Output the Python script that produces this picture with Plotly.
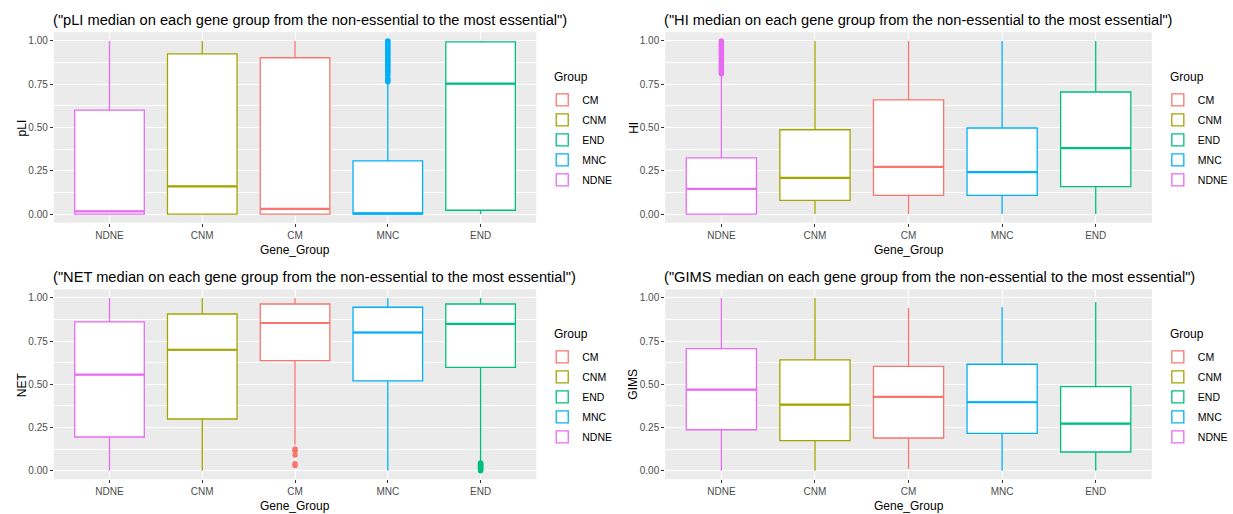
import plotly.graph_objects as go

categories = ["NDNE", "CNM", "CM", "MNC", "END"]
legend_order = ["CM", "CNM", "END", "MNC", "NDNE"]
group_colors = {"CM": "#F8766D", "CNM": "#A3A500", "END": "#00BF7D", "MNC": "#00B0F6", "NDNE": "#E76BF3"}

# per panel: lowerfence, q1, median, q3, upperfence (in order of categories)
pli_low = [0.0, 0.0, 0.0, 0.0, 0.0]
pli_q1 = [0.0, 0.0, 0.0, 0.0, 0.022]
pli_med = [0.015, 0.16, 0.03, 0.004, 0.754]
pli_q3 = [0.60, 0.925, 0.903, 0.307, 0.995]
pli_high = [1.0, 1.0, 1.0, 0.76, 1.0]

hi_low = [0.0, 0.0, 0.0, 0.0, 0.0]
hi_q1 = [0.0, 0.079, 0.108, 0.108, 0.158]
hi_med = [0.145, 0.209, 0.272, 0.242, 0.381]
hi_q3 = [0.325, 0.487, 0.66, 0.497, 0.705]
hi_high = [0.80, 1.0, 1.0, 1.0, 1.0]

net_low = [0.0, 0.0, 0.15, 0.0, 0.05]
net_q1 = [0.195, 0.299, 0.637, 0.52, 0.598]
net_med = [0.556, 0.70, 0.855, 0.80, 0.85]
net_q3 = [0.861, 0.907, 0.965, 0.946, 0.965]
net_high = [1.0, 1.0, 1.0, 1.0, 1.0]

gims_low = [0.0, 0.0, 0.01, 0.0, 0.0]
gims_q1 = [0.237, 0.174, 0.189, 0.216, 0.108]
gims_med = [0.469, 0.382, 0.427, 0.396, 0.272]
gims_q3 = [0.707, 0.641, 0.604, 0.616, 0.486]
gims_high = [1.0, 1.0, 0.942, 0.948, 0.977]

# outliers (group -> values)
pli_outliers = {"MNC": [0.765, 0.775, 0.785, 0.80, 0.815, 0.825, 0.835, 0.845, 0.855, 0.865,
                        0.875, 0.885, 0.895, 0.905, 0.915, 0.925, 0.935, 0.945, 0.955,
                        0.965, 0.975, 0.985, 0.995, 1.0]}
hi_outliers = {"NDNE": [0.81, 0.82, 0.83, 0.84, 0.85, 0.86, 0.87, 0.88, 0.89, 0.90, 0.91,
                        0.92, 0.93, 0.94, 0.95, 0.96, 0.97, 0.98, 0.99, 1.0]}
net_outliers = {"CM": [0.125, 0.115, 0.09, 0.04, 0.03],
                "END": [0.0, 0.005, 0.01, 0.015, 0.02, 0.025, 0.03, 0.035, 0.04, 0.045]}
gims_outliers = {}

panel_titles = [
    '("pLI median on each gene group from the non-essential to the most essential")',
    '("HI median on each gene group from the non-essential to the most essential")',
    '("NET median on each gene group from the non-essential to the most essential")',
    '("GIMS median on each gene group from the non-essential to the most essential")',
]
y_titles = ["pLI", "HI", "NET", "GIMS"]
x_title = "Gene_Group"
legend_title = "Group"
y_ticks = [0.0, 0.25, 0.5, 0.75, 1.0]
y_ticktext = ["0.00", "0.25", "0.50", "0.75", "1.00"]

panels = [
    (pli_low, pli_q1, pli_med, pli_q3, pli_high, pli_outliers),
    (hi_low, hi_q1, hi_med, hi_q3, hi_high, hi_outliers),
    (net_low, net_q1, net_med, net_q3, net_high, net_outliers),
    (gims_low, gims_q1, gims_med, gims_q3, gims_high, gims_outliers),
]

W, H = 1233, 514
# plot areas in pixels: (left, right, top, bottom)
areas = [(54, 538, 32.3, 222.7), (667.4, 1155.6, 32.3, 222.7),
         (54, 538, 289.3, 479.3), (667.4, 1155.6, 289.3, 479.3)]

FONT = "Liberation Sans, Arial, sans-serif"
BOXW = 0.75
positions = list(range(1, len(categories) + 1))

fig = go.Figure()
layout = dict(
    width=W, height=H, margin=dict(l=0, r=0, t=0, b=0),
    paper_bgcolor="white", plot_bgcolor="#EBEBEB",
    showlegend=True, boxmode="overlay",
    font=dict(family=FONT, color="#000000"),
)
annotations = []

for pi, (low, q1, med, q3, high, outl) in enumerate(panels):
    xa = "x" if pi == 0 else f"x{pi+1}"
    ya = "y" if pi == 0 else f"y{pi+1}"
    lg = "legend" if pi == 0 else f"legend{pi+1}"
    l, r, t, b = areas[pi]
    for ci, cat in enumerate(categories):
        col = group_colors[cat]
        fig.add_trace(go.Box(
            x=[positions[ci]], q1=[q1[ci]], median=[med[ci]], q3=[q3[ci]],
            lowerfence=[low[ci]], upperfence=[high[ci]],
            width=BOXW, whiskerwidth=0, boxpoints=False,
            fillcolor="white", line=dict(color=col, width=1.3),
            name=cat, legend=lg, legendgroup=f"{lg}_{cat}",
            legendrank=legend_order.index(cat) + 1,
            xaxis=xa, yaxis=ya, showlegend=True, hoverinfo="skip",
        ))
        # thicker median line (ggplot fatten)
        fig.add_trace(go.Scatter(
            x=[positions[ci] - BOXW / 2, positions[ci] + BOXW / 2], y=[med[ci], med[ci]],
            mode="lines", line=dict(color=col, width=2.2), showlegend=False,
            xaxis=xa, yaxis=ya, hoverinfo="skip",
        ))
        if cat in outl:
            vals = outl[cat]
            fig.add_trace(go.Scatter(
                x=[positions[ci]] * len(vals), y=vals, mode="markers",
                marker=dict(color=col, size=5.5), showlegend=False,
                xaxis=xa, yaxis=ya, hoverinfo="skip",
            ))
    axis_common = dict(showline=False, zeroline=False, ticks="outside", ticklen=3,
                       tickcolor="#333333", tickwidth=1,
                       tickfont=dict(family=FONT, size=10, color="#4D4D4D"),
                       gridcolor="white", gridwidth=1.1)
    layout["xaxis" if pi == 0 else f"xaxis{pi+1}"] = dict(
        domain=[l / W, r / W], anchor=ya, range=[0.4, 5.6],
        tickmode="array", tickvals=positions, ticktext=categories,
        showgrid=True, **axis_common)
    layout["yaxis" if pi == 0 else f"yaxis{pi+1}"] = dict(
        domain=[1 - b / H, 1 - t / H], anchor=xa, range=[-0.05, 1.05],
        tickmode="array", tickvals=y_ticks, ticktext=y_ticktext,
        showgrid=True,
        minor=dict(tickmode="array", tickvals=[0.125, 0.375, 0.625, 0.875],
                   showgrid=True, gridcolor="white", gridwidth=0.55, ticks=""),
        **axis_common)
    layout[lg] = dict(
        x=(r + 6) / W, y=1 - (t + 53) / H, xanchor="left", yanchor="top",
        bgcolor="white", borderwidth=0,
        font=dict(family=FONT, size=10.5, color="#000000"),
        tracegroupgap=1, traceorder="grouped",
    )
    # legend title
    annotations.append(dict(text=legend_title, x=(r + 17) / W, y=1 - (t + 44.5) / H,
                            xref="paper", yref="paper", xanchor="left", yanchor="middle",
                            showarrow=False, borderpad=0,
                            font=dict(family=FONT, size=12, color="#000000")))
    # panel title
    annotations.append(dict(text=panel_titles[pi], x=(l - 2) / W, y=1 - (t - 12.5) / H,
                            xref="paper", yref="paper", xanchor="left", yanchor="middle",
                            showarrow=False, borderpad=0,
                            font=dict(family=FONT, size=14.65, color="#000000")))
    # x axis title
    annotations.append(dict(text=x_title, x=(l + r) / 2 / W, y=1 - (b + 27) / H,
                            xref="paper", yref="paper", xanchor="center", yanchor="middle",
                            showarrow=False, font=dict(family=FONT, size=12, color="#000000")))
    # y axis title
    annotations.append(dict(text=y_titles[pi], x=(l - 32) / W, y=1 - (t + b) / 2 / H,
                            xref="paper", yref="paper", xanchor="center", yanchor="middle",
                            textangle=-90, showarrow=False,
                            font=dict(family=FONT, size=12, color="#000000")))

layout["annotations"] = annotations
fig.update_layout(**layout)
fig.write_html("out.html")
